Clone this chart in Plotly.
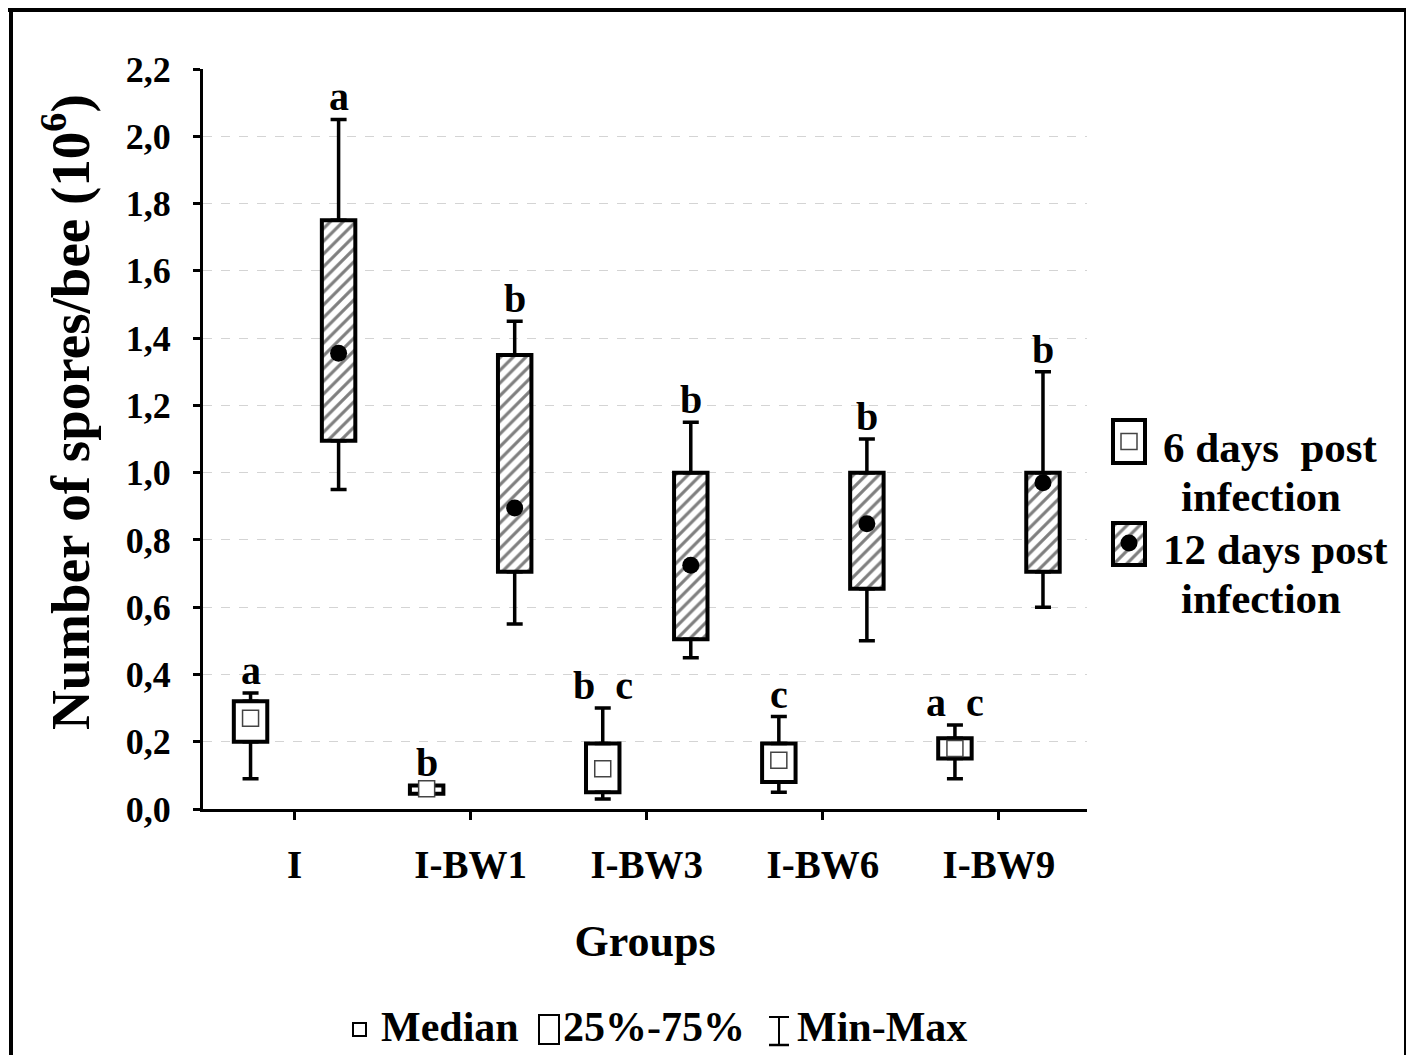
import plotly.graph_objects as go

# ---------------- data ----------------
categories = ["I", "I-BW1", "I-BW3", "I-BW6", "I-BW9"]

d6_min = [0.09, 0.045, 0.03, 0.05, 0.09]
d6_q1 = [0.20, 0.045, 0.05, 0.08, 0.15]
d6_med = [0.27, 0.06, 0.12, 0.145, 0.18]
d6_q3 = [0.32, 0.07, 0.195, 0.195, 0.21]
d6_max = [0.345, 0.07, 0.30, 0.275, 0.25]

d12_min = [0.95, 0.55, 0.45, 0.50, 0.60]
d12_q1 = [1.095, 0.705, 0.505, 0.655, 0.705]
d12_med = [1.355, 0.895, 0.725, 0.848, 0.97]
d12_q3 = [1.75, 1.35, 1.00, 1.00, 1.00]
d12_max = [2.05, 1.45, 1.15, 1.10, 1.30]

letters_6 = ["a", "b", "b\u00a0\u00a0c", "c", "a\u00a0\u00a0c"]
letters_12 = ["a", "b", "b", "b", "b"]

y_ticks = [0.0, 0.2, 0.4, 0.6, 0.8, 1.0, 1.2, 1.4, 1.6, 1.8, 2.0, 2.2]

# ---------------- layout helpers ----------------
OFF = 8                     # page body margin
W, H = 1414 - OFF, 1055 - OFF
FONT = "Liberation Serif"


def X(px):
    return (px - OFF) / W


def Y(py):
    return 1 - (py - OFF) / H


idx = list(range(len(categories)))
pos6 = [i - 0.25 for i in idx]
pos12 = [i + 0.25 for i in idx]
BOXW = 0.19

fig = go.Figure()

hatch = dict(shape="/", fgcolor="black", bgcolor="white", size=9, solidity=0.35)


def add_series(pos, mn, q1, med, q3, mx, hatched, med_marker):
    fig.add_trace(go.Bar(
        x=pos, y=[b - a for a, b in zip(q1, q3)], base=q1, width=BOXW,
        marker=dict(color="white", line=dict(color="black", width=4),
                    pattern=hatch if hatched else None),
        showlegend=False, hoverinfo="skip"))
    # upper whisker
    fig.add_trace(go.Scatter(
        x=pos, y=q3, mode="markers",
        marker=dict(size=1, color="rgba(0,0,0,0)"),
        error_y=dict(type="data", symmetric=False,
                     array=[b - a for a, b in zip(q3, mx)],
                     arrayminus=[0] * len(q3),
                     color="black", thickness=3.5, width=8),
        showlegend=False, hoverinfo="skip"))
    # lower whisker
    fig.add_trace(go.Scatter(
        x=pos, y=q1, mode="markers",
        marker=dict(size=1, color="rgba(0,0,0,0)"),
        error_y=dict(type="data", symmetric=False,
                     array=[0] * len(q1),
                     arrayminus=[a - b for a, b in zip(q1, mn)],
                     color="black", thickness=3.5, width=8),
        showlegend=False, hoverinfo="skip"))
    fig.add_trace(go.Scatter(
        x=pos, y=med, mode="markers", marker=med_marker,
        showlegend=False, hoverinfo="skip"))


sq_marker = dict(symbol="square", size=16, color="white",
                 line=dict(color="#444", width=1.5))
dot_marker = dict(symbol="circle", size=17, color="black",
                  line=dict(color="black", width=0))

add_series(pos6, d6_min, d6_q1, d6_med, d6_q3, d6_max, False, sq_marker)
add_series(pos12, d12_min, d12_q1, d12_med, d12_q3, d12_max, True, dot_marker)

# significance letters
annotations = []
for p, m, t in zip(pos6, d6_max, letters_6):
    annotations.append(dict(x=p, y=m, xref="x", yref="y", text=t, showarrow=False,
                            yanchor="bottom", yshift=-2,
                            font=dict(family=FONT, size=40, color="black", weight="bold")))
for p, m, t in zip(pos12, d12_max, letters_12):
    annotations.append(dict(x=p, y=m, xref="x", yref="y", text=t, showarrow=False,
                            yanchor="bottom", yshift=-2,
                            font=dict(family=FONT, size=40, color="black", weight="bold")))

# y-axis title
annotations.append(dict(x=X(67), y=Y(412), xref="paper", yref="paper",
                        text="Number of spores/bee (10<sup>6</sup>)", textangle=-90,
                        showarrow=False, xanchor="center", yanchor="middle",
                        font=dict(family=FONT, size=55, color="black", weight="bold")))

# ---------------- legend (right) ----------------
fig.add_trace(go.Bar(x=[0], y=[43], base=[102], width=1, xaxis="x2", yaxis="y2",
                     marker=dict(color="white", line=dict(color="black", width=4)),
                     showlegend=False, hoverinfo="skip"))
fig.add_trace(go.Bar(x=[0], y=[42], base=[0], width=1, xaxis="x2", yaxis="y2",
                     marker=dict(color="white", line=dict(color="black", width=4),
                                 pattern=hatch),
                     showlegend=False, hoverinfo="skip"))
fig.add_trace(go.Scatter(x=[0], y=[123.5], mode="markers", xaxis="x2", yaxis="y2",
                         marker=sq_marker, showlegend=False, hoverinfo="skip"))
fig.add_trace(go.Scatter(x=[0], y=[22], mode="markers", xaxis="x2", yaxis="y2",
                         marker=dot_marker, showlegend=False, hoverinfo="skip"))

leg_font = dict(family=FONT, size=43, color="black", weight="bold")
for txt, cx, cy in [("6 days\u00a0\u00a0post", 1270, 447), ("infection", 1261, 496),
                    ("12 days post", 1275, 549), ("infection", 1261, 598)]:
    annotations.append(dict(x=X(cx), y=Y(cy), xref="paper", yref="paper", text=txt,
                            showarrow=False, xanchor="center", yanchor="middle",
                            font=leg_font))

# ---------------- bottom legend ----------------
bot_font = dict(family=FONT, size=42, color="black", weight="bold")
for txt, lx in [("Median", 379), ("25%-75%", 561), ("Min-Max", 795)]:
    annotations.append(dict(x=X(lx), y=Y(1027), xref="paper", yref="paper", text=txt,
                            showarrow=False, xanchor="left", yanchor="middle",
                            font=bot_font))

shapes = [
    # outer frame
    dict(type="line", xref="paper", yref="paper", x0=X(7), x1=X(1409), y0=Y(10), y1=Y(10),
         line=dict(color="black", width=4), layer="above"),
    dict(type="line", xref="paper", yref="paper", x0=X(11), x1=X(11), y0=Y(1060), y1=Y(8),
         line=dict(color="black", width=4), layer="above"),
    dict(type="line", xref="paper", yref="paper", x0=X(1406), x1=X(1406), y0=Y(1060), y1=Y(8),
         line=dict(color="black", width=4), layer="above"),
    # median symbol
    dict(type="rect", xref="paper", yref="paper", x0=X(353), x1=X(366), y0=Y(1036), y1=Y(1023),
         line=dict(color="black", width=2)),
    # box symbol
    dict(type="rect", xref="paper", yref="paper", x0=X(539), x1=X(559), y0=Y(1044), y1=Y(1015),
         line=dict(color="black", width=2)),
    # min-max symbol
    dict(type="line", xref="paper", yref="paper", x0=X(779), x1=X(779), y0=Y(1045), y1=Y(1017),
         line=dict(color="black", width=2)),
    dict(type="line", xref="paper", yref="paper", x0=X(769), x1=X(789), y0=Y(1017), y1=Y(1017),
         line=dict(color="black", width=2)),
    dict(type="line", xref="paper", yref="paper", x0=X(769), x1=X(789), y0=Y(1045), y1=Y(1045),
         line=dict(color="black", width=2.5)),
]

fig.update_layout(
    width=W, height=H,
    margin=dict(l=0, r=0, t=0, b=0, autoexpand=False),
    paper_bgcolor="white", plot_bgcolor="white",
    barmode="overlay",
    separators=", ",
    showlegend=False,
    font=dict(family=FONT, color="black"),
    xaxis=dict(
        domain=[X(203), X(1087)], anchor="y", automargin=False,
        range=[-0.52, 4.5],
        tickmode="array", tickvals=idx, ticktext=categories,
        ticks="outside", ticklen=8, tickwidth=2.5, tickcolor="black",
        ticklabelstandoff=11,
        showline=True, linewidth=3, linecolor="black",
        showgrid=False, zeroline=False,
        tickfont=dict(family=FONT, size=39, color="black", weight="bold"),
        title=dict(text="Groups", standoff=41,
                   font=dict(family=FONT, size=44, color="black", weight="bold")),
    ),
    yaxis=dict(
        domain=[Y(809), Y(69)], anchor="x", automargin=False,
        range=[0, 2.2],
        tickmode="array", tickvals=y_ticks, tickformat=".1f",
        ticks="outside", ticklen=7, tickwidth=2.5, tickcolor="black",
        ticklabelstandoff=15,
        showline=True, linewidth=3, linecolor="black",
        showgrid=True, gridcolor="#d4d4d4", griddash="dash", gridwidth=1,
        zeroline=False,
        tickfont=dict(family=FONT, size=36, color="black", weight="bold"),
    ),
    xaxis2=dict(domain=[X(1109), X(1149)], anchor="y2", range=[-0.625, 0.625],
                visible=False, fixedrange=True),
    yaxis2=dict(domain=[Y(569), Y(416)], anchor="x2", range=[-4, 149],
                visible=False, fixedrange=True),
    annotations=annotations,
    shapes=shapes,
)

fig.write_html("out.html")
